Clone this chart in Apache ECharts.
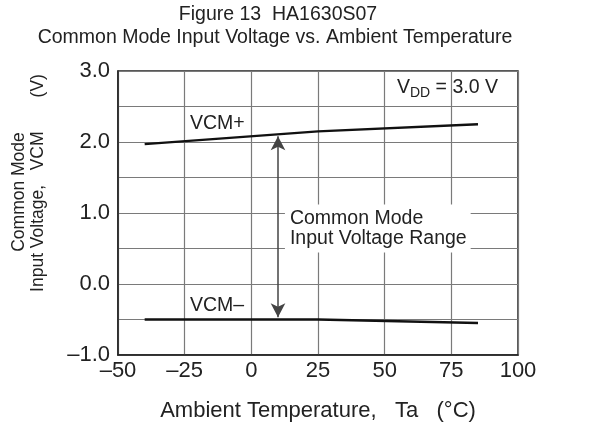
<!DOCTYPE html>
<html>
<head>
<meta charset="utf-8">
<script src="https://cdn.jsdelivr.net/npm/echarts@6/dist/echarts.min.js"></script>
<style>
html,body{margin:0;padding:0;background:#fff;}
#c{width:595px;height:427px;}
</style>
</head>
<body>
<div id="c"></div>
<script>
// ---- data ----
const temperature = [-40, 25, 85];
const vcmPlus = [1.97, 2.15, 2.25];
const vcmMinus = [-0.50, -0.50, -0.55];
const xTicks = [-50, -25, 0, 25, 50, 75, 100];
const yTicks = [-1, 0, 1, 2, 3];
const titleLines = ['Figure 13  HA1630S07', 'Common Mode Input Voltage vs. Ambient Temperature'];
const xName = 'Ambient Temperature,   Ta   (\u00B0C)';
const yNameLines = ['Common Mode', 'Input Voltage,   VCM       (V)'];
const arrowRange = { temp: 10, top: 2.08, bottom: -0.47 };
const annotations = [
  { name: 'VCM+', temp: -23, v: 2.26 },
  { name: 'VCM\u2013', temp: -23, v: -0.30 }
];
const rangeLabel = { text: 'Common Mode\nInput Voltage Range', temp: 12.6, v: 0.78 };
const vddLabel = { temp: 54.6, v: 2.76 };

const FONT = '"Liberation Sans", Arial, Helvetica, sans-serif';
const dash = s => String(s).replace('-', '\u2013');

const chart = echarts.init(document.getElementById('c'), null, { renderer: 'canvas' });

const option = {
  backgroundColor: '#fff',
  animation: false,
  textStyle: { fontFamily: FONT, color: '#222' },
  grid: { left: 118, right: 77, top: 71, bottom: 70, show: true, borderColor: '#222', borderWidth: 1.5, backgroundColor: 'transparent' },
  xAxis: {
    type: 'value', min: -50, max: 100, interval: 25,
    axisLine: { show: true, onZero: false, lineStyle: { color: '#222', width: 1.5 } },
    axisTick: { show: false },
    splitLine: { show: true, lineStyle: { color: '#7a7a7a', width: 1.2 } },
    axisLabel: {
      fontSize: 22, color: '#222', fontFamily: FONT, margin: 5,
      formatter: v => xTicks.indexOf(v) >= 0 ? dash(v) : ''
    },
    name: xName, nameLocation: 'middle', nameGap: 45,
    nameTextStyle: { fontSize: 22, color: '#222', fontFamily: FONT }
  },
  yAxis: {
    type: 'value', min: -1, max: 3, interval: 0.5,
    axisLine: { show: true, onZero: false, lineStyle: { color: '#222', width: 1.5 } },
    axisTick: { show: false },
    splitLine: { show: true, lineStyle: { color: '#7a7a7a', width: 1.2 } },
    axisLabel: {
      fontSize: 22, color: '#222', fontFamily: FONT, margin: 8,
      formatter: v => yTicks.indexOf(v) >= 0 ? dash(v.toFixed(1)) : ''
    }
  },
  series: [
    {
      name: 'VCM+', type: 'line', symbol: 'none',
      data: temperature.map((t, i) => [t, vcmPlus[i]]),
      lineStyle: { color: '#111', width: 2.4 },
      z: 5,
      markLine: {
        silent: true, symbol: ['arrow', 'arrow'], symbolSize: [11, 14],
        lineStyle: { color: '#444', width: 1.5, type: 'solid' },
        itemStyle: { color: '#111' },
        label: { show: false },
        data: [[{ coord: [arrowRange.temp, arrowRange.top] }, { coord: [arrowRange.temp, arrowRange.bottom] }]]
      },
      markPoint: {
        silent: true, symbol: 'circle', symbolSize: 0,
        data: [
          ...annotations.map(a => ({
            coord: [a.temp, a.v], value: a.name,
            label: { show: true, position: 'right', distance: 0, formatter: a.name, fontSize: 19.5, color: '#222', fontFamily: FONT }
          })),
          {
            coord: [rangeLabel.temp, rangeLabel.v],
            label: {
              show: true, position: 'right', distance: 0, formatter: rangeLabel.text,
              fontSize: 19.5, lineHeight: 20, color: '#222', fontFamily: FONT,
              backgroundColor: '#fff', padding: [4, 4, 4, 5], align: 'left'
            }
          },
          {
            coord: [vddLabel.temp, vddLabel.v],
            label: {
              show: true, position: 'right', distance: 0,
              formatter: '{a|V}{b|DD}{a| = 3.0 V}',
              rich: {
                a: { fontSize: 19.5, color: '#222', fontFamily: FONT },
                b: { fontSize: 14, color: '#222', fontFamily: FONT, padding: [11, 0, 0, 0] }
              }
            }
          }
        ]
      }
    },
    {
      name: 'VCM-', type: 'line', symbol: 'none',
      data: temperature.map((t, i) => [t, vcmMinus[i]]),
      lineStyle: { color: '#111', width: 2.4 },
      z: 5
    }
  ],
  graphic: [
    { type: 'text', x: 278, y: 15, style: { text: titleLines[0], font: '19.5px ' + FONT, fill: '#222', textAlign: 'center', textVerticalAlign: 'middle' } },
    { type: 'text', x: 275, y: 38, style: { text: titleLines[1], font: '19.5px ' + FONT, fill: '#222', textAlign: 'center', textVerticalAlign: 'middle' } },
    { type: 'text', x: 19, y: 192, rotation: Math.PI / 2, style: { text: yNameLines[0], font: '17.5px ' + FONT, fill: '#222', textAlign: 'center', textVerticalAlign: 'middle' } },
    { type: 'text', x: 38, y: 183, rotation: Math.PI / 2, style: { text: yNameLines[1], font: '17.5px ' + FONT, fill: '#222', textAlign: 'center', textVerticalAlign: 'middle' } }
  ]
};
chart.setOption(option);
</script>
</body>
</html>
